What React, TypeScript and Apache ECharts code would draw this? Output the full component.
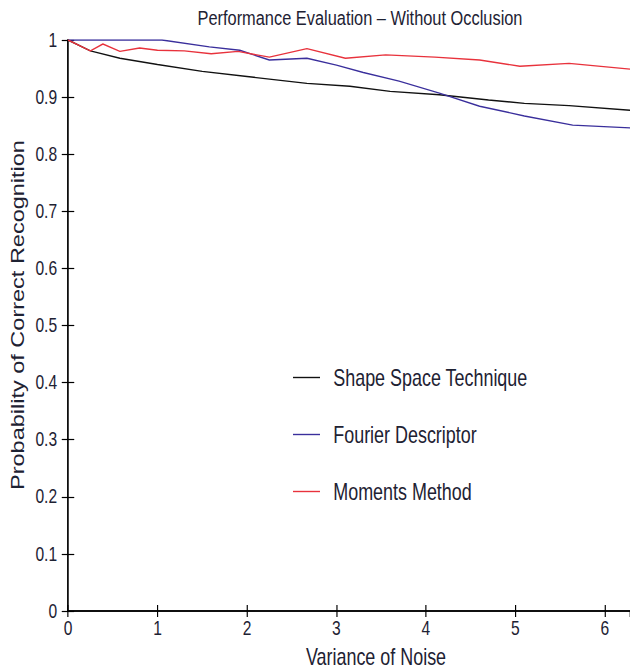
import React, { useEffect, useRef } from "react";
import * as echarts from "echarts";

const shapeX = [0, 0.25, 0.58, 1.0, 1.5, 2.0, 2.67, 3.15, 3.6, 4.15, 4.7, 5.1, 5.6, 6.2832];
const shapeY = [1, 0.981, 0.968, 0.957, 0.945, 0.936, 0.924, 0.919, 0.91, 0.904, 0.895, 0.889, 0.885, 0.877];

const fourierX = [0, 1.05, 1.58, 1.92, 2.25, 2.67, 3.0, 3.3, 3.7, 4.15, 4.6, 5.1, 5.64, 6.2832];
const fourierY = [1, 1.0, 0.988, 0.982, 0.965, 0.968, 0.956, 0.943, 0.928, 0.907, 0.884, 0.867, 0.851, 0.846];

const momentsX = [0, 0.25, 0.39, 0.58, 0.8, 1.0, 1.3, 1.6, 1.9, 2.25, 2.67, 3.1, 3.55, 4.1, 4.6, 5.05, 5.6, 6.2832];
const momentsY = [1, 0.981, 0.993, 0.98, 0.986, 0.982, 0.981, 0.976, 0.98, 0.97, 0.985, 0.968, 0.974, 0.97, 0.965, 0.954, 0.959, 0.949];

const seriesNames = ["Shape Space Technique", "Fourier Descriptor", "Moments Method"];
const seriesColors = ["#111111", "#3a2f9c", "#e8323c"];
const xTickLabels = ["0", "1", "2", "3", "4", "5", "6"];

const titleText = "Performance Evaluation \u2013 Without Occlusion";
const xName = "Variance of Noise";
const yName = "Probability of Correct Recognition";

const FONT = "'Liberation Sans', Arial, sans-serif";
const TEXT_COLOR = "#1e2233";
// the reference is horizontally condensed; the chart is drawn wider and squeezed
const SX = 0.78;
const W = Math.round(630 / SX);

function zip(xs: number[], ys: number[]) {
  return xs.map((x, i) => [x, ys[i]]);
}

export default function App() {
  const ref = useRef<HTMLDivElement>(null);
  useEffect(() => {
    if (!ref.current) return;
    const chart = echarts.init(ref.current, null, { renderer: "svg" });
    const lineCommon = { show: true, lineStyle: { color: "#000", width: 1.6 } };
    const datas = [zip(shapeX, shapeY), zip(fourierX, fourierY), zip(momentsX, momentsY)];
    chart.setOption({
      animation: false,
      backgroundColor: "#fff",
      grid: { left: 68 / SX, top: 40, width: 563 / SX, height: 571, containLabel: false },
      xAxis: [
        {
          type: "value",
          min: 0,
          max: 6.2832,
          interval: 1,
          position: "bottom",
          axisLine: lineCommon,
          axisTick: { show: true, inside: true, length: 6, lineStyle: { color: "#000", width: 1.5 } },
          splitLine: { show: false },
          axisLabel: {
            show: true,
            margin: 7,
            fontSize: 20,
            fontFamily: FONT,
            color: TEXT_COLOR,
            showMaxLabel: false,
            formatter: (v: number) => {
              const i = Math.round(v);
              return Math.abs(v - i) < 1e-6 && xTickLabels[i] !== undefined ? xTickLabels[i] : "";
            },
          },
        },
        {
          type: "value",
          min: 0,
          max: 6.2832,
          interval: 1,
          position: "top",
          axisLine: lineCommon,
          axisTick: { show: true, inside: true, length: 6, lineStyle: { color: "#000", width: 1.5 } },
          splitLine: { show: false },
          axisLabel: { show: false },
        },
      ],
      yAxis: [
        {
          type: "value",
          min: 0,
          max: 1,
          interval: 0.1,
          position: "left",
          axisLine: lineCommon,
          axisTick: { show: true, inside: true, length: 8, lineStyle: { color: "#000", width: 1.2 } },
          splitLine: { show: false },
          axisLabel: {
            show: true,
            margin: 14,
            fontSize: 20,
            fontFamily: FONT,
            color: TEXT_COLOR,
            formatter: (v: number) => (v === 0 ? "0" : v === 1 ? "1" : v.toFixed(1)),
          },
        },
        {
          type: "value",
          min: 0,
          max: 1,
          interval: 0.1,
          position: "right",
          axisLine: lineCommon,
          axisTick: { show: true, inside: true, length: 8, lineStyle: { color: "#000", width: 1.2 } },
          splitLine: { show: false },
          axisLabel: { show: false },
        },
      ],
      legend: {
        orient: "vertical",
        left: 293 / SX,
        top: 366,
        padding: 0,
        itemWidth: 27 / SX,
        itemHeight: 14,
        itemGap: 34,
        icon: "path://M0,0 L35,0 L35,1.4 L0,1.4 Z",
        textStyle: {
          fontSize: 23,
          fontFamily: FONT,
          color: TEXT_COLOR,
          padding: [0, 0, 0, 12],
        },
        data: seriesNames,
      },
      series: seriesNames.map((name, i) => ({
        name,
        type: "line",
        data: datas[i],
        symbol: "none",
        smooth: false,
        lineStyle: { color: seriesColors[i], width: 1.4 },
        itemStyle: { color: seriesColors[i] },
        xAxisIndex: 0,
        yAxisIndex: 0,
      })),
      graphic: [
        {
          type: "text",
          x: 360 / SX,
          y: 18,
          style: {
            text: titleText,
            fontSize: 21,
            fontFamily: FONT,
            fill: TEXT_COLOR,
            textAlign: "center",
            textVerticalAlign: "middle",
          },
        },
        {
          type: "text",
          x: 376 / SX,
          y: 657,
          style: {
            text: xName,
            fontSize: 23,
            fontFamily: FONT,
            fill: TEXT_COLOR,
            textAlign: "center",
            textVerticalAlign: "middle",
          },
        },
        {
          type: "text",
          x: 17 / SX,
          y: 315,
          rotation: Math.PI / 2,
          style: {
            text: yName,
            fontSize: 23.5,
            fontFamily: FONT,
            fill: TEXT_COLOR,
            textAlign: "center",
            textVerticalAlign: "middle",
          },
        },
      ],
    });
    return () => chart.dispose();
  }, []);
  return (
    <div style={{ position: "absolute", left: 0, top: 0, width: 630, height: 670, overflow: "hidden" }}>
      <div
        ref={ref}
        style={{ width: W, height: 670, transform: `scaleX(${SX})`, transformOrigin: "0 0" }}
      />
    </div>
  );
}
